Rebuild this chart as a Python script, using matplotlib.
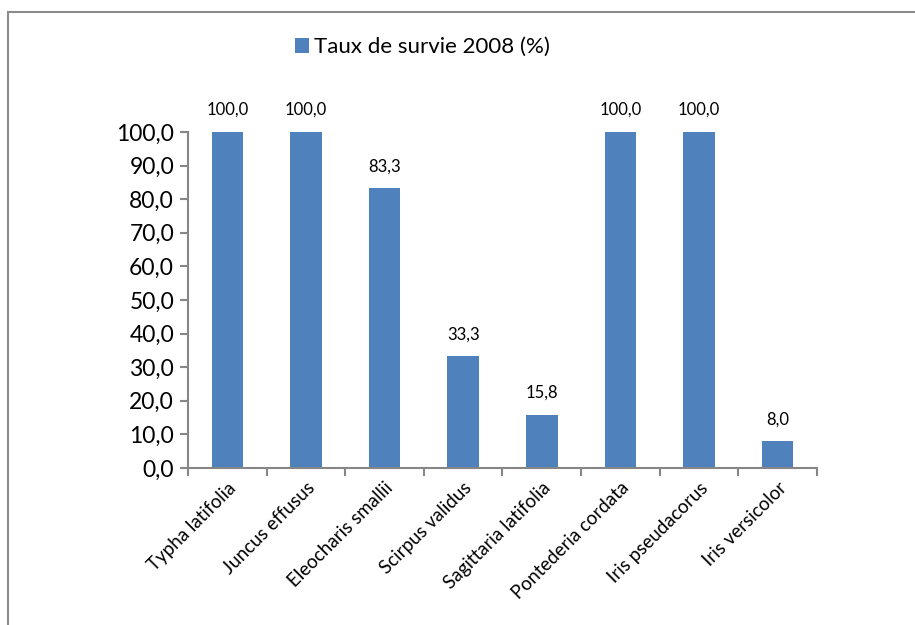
import matplotlib
matplotlib.use("Agg")
import matplotlib.pyplot as plt
from matplotlib.patches import Rectangle
import numpy as np

categories = ["Typha latifolia", "Juncus effusus", "Eleocharis smallii", "Scirpus validus",
              "Sagittaria latifolia", "Pontederia cordata", "Iris pseudacorus", "Iris versicolor"]
values = [100.0, 100.0, 83.3, 33.3, 15.8, 100.0, 100.0, 8.0]
series_name = "Taux de survie 2008 (%)"
yticks = [0, 10, 20, 30, 40, 50, 60, 70, 80, 90, 100]

plt.rcParams['font.family'] = ['Lato', 'DejaVu Sans']
W, H = 915, 625
fig = plt.figure(figsize=(W/100, H/100), dpi=100)
fig.patch.set_facecolor('white')

# outer border
fig.add_artist(Rectangle((8/W, -0.1), 1.1, (625-12)/H + 0.1, transform=fig.transFigure,
                         fill=False, edgecolor='#8c8c8c', linewidth=1.5))

ax = fig.add_axes([188/W, (625-468)/H, (817-188)/W, (468-132)/H])
x = np.arange(len(categories))
color = '#4f81bd'
bars = ax.bar(x, values, width=0.4, color=color, label=series_name)
ax.set_xlim(-0.5, len(categories) - 0.5)
ax.set_ylim(0, 100)
ax.set_yticks(yticks)
ax.set_yticklabels([f"{v:.1f}".replace('.', ',') for v in yticks], fontsize=16.5)
ax.set_xticks(x)
ax.set_xticklabels(categories, rotation=45, ha='right', rotation_mode='anchor', fontsize=13.5)
ax.tick_params(axis='x', length=0, pad=8)
ax.set_xticks(np.arange(-0.5, len(categories), 1), minor=True)
ax.tick_params(axis='x', which='minor', length=6, color='#868686', width=1.5)
ax.tick_params(axis='y', length=6, color='#868686', width=1.5, pad=4)
for s in ['top', 'right']:
    ax.spines[s].set_visible(False)
for s in ['left', 'bottom']:
    ax.spines[s].set_color('#868686')
    ax.spines[s].set_linewidth(1.5)

for xi, v in zip(x, values):
    ax.annotate(f"{v:.1f}".replace('.', ','), (xi, v), xytext=(0, 10), textcoords='offset points',
                ha='center', va='bottom', fontsize=12, annotation_clip=False)

leg = fig.legend(handles=[bars], labels=[series_name], loc='center', bbox_to_anchor=(422/W, 1 - 47/H),
                 frameon=False, fontsize=16, handlelength=0.65, handleheight=0.65, handletextpad=0.2)

fig.savefig("out.png", dpi=100)
